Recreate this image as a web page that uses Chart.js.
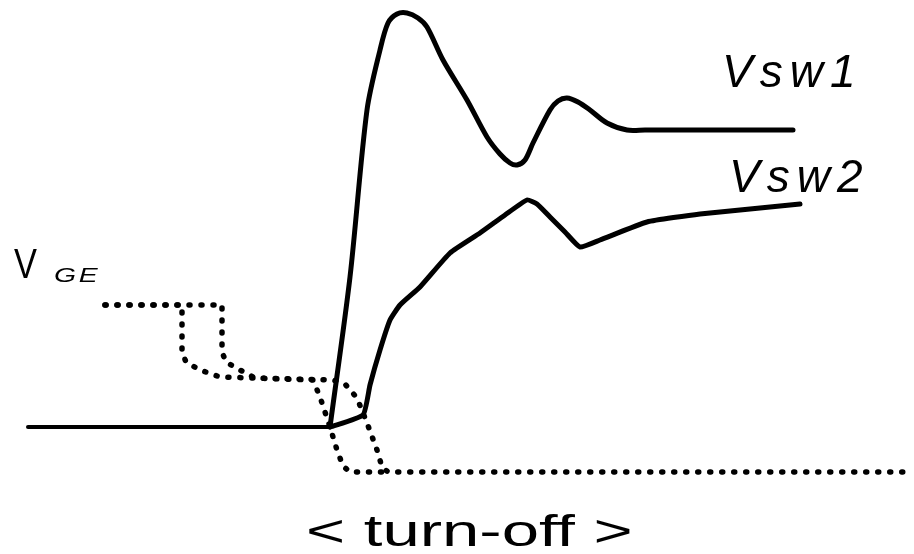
<!DOCTYPE html>
<html>
<head>
<meta charset="utf-8">
<script src="https://cdn.jsdelivr.net/npm/chart.js@4.4.1/dist/chart.umd.min.js"></script>
<style>
  html, body { margin: 0; background: #fff; }
  canvas { display: block; }
</style>
</head>
<body>
<canvas id="waveChart" width="914" height="554"></canvas>
<script>
// time axis is arbitrary units, voltage axis too (schematic waveform)
const baselineTime = [28, 330];
const baselineVolt = [127, 127];

const vsw1Time = [330, 350, 367, 380, 388, 397, 407, 418, 427, 443, 467, 487, 500, 510, 517, 525, 533, 550, 558, 567, 578, 590, 607, 627, 645, 793];
const vsw1Volt = [127, 277, 444, 504, 531, 540, 541, 536, 527, 494, 454, 417, 400, 391, 389, 394, 411, 444, 453, 456, 452, 444, 431, 424, 424, 424];

const vsw2Time = [330, 363, 370, 380, 390, 400, 420, 450, 480, 505, 527, 537, 550, 565, 580, 600, 647, 700, 800];
const vsw2Volt = [127, 139, 169, 204, 234, 249, 267, 301, 321, 339, 354, 350, 337, 322, 307, 314, 332, 340, 350];

const vgeFastTime = [105, 182, 182, 186, 200, 220, 253, 313, 320, 330, 337, 343, 350, 385];
const vgeFastVolt = [249, 249, 202, 192, 184, 177, 176, 174, 157, 127, 104, 88, 82, 82];

const vgeSlowTime = [105, 222, 222, 226, 240, 255, 333, 345, 357, 367, 377, 382, 388, 910];
const vgeSlowVolt = [249, 249, 202, 192, 184, 176, 174, 170, 156, 131, 104, 87, 82, 82];

const toPoints = (times, volts) => times.map((t, i) => ({ x: t, y: volts[i] }));

const labels = [
  { text: "Vsw1", x: 722, y: 467, size: 46, italic: true, scaleX: 1, spacing: 7 },
  { text: "Vsw2", x: 729, y: 362, size: 46, italic: true, scaleX: 1, spacing: 7 },
  { text: "V", x: 14, y: 276, size: 43, italic: false, scaleX: 0.8, spacing: 0 },
  { text: "GE", x: 54, y: 272, size: 21, italic: true, scaleX: 1.35, spacing: 2 },
  { text: "< turn-off >", x: 306, y: 8, size: 45, italic: false, scaleX: 1.49, spacing: 0 },
];

const textPlugin = {
  id: "waveLabels",
  afterDraw(chart) {
    const { ctx, scales } = chart;
    labels.forEach((label) => {
      ctx.save();
      ctx.font = `${label.italic ? "italic " : ""}${label.size}px "Liberation Sans", Arial, sans-serif`;
      ctx.letterSpacing = `${label.spacing}px`;
      ctx.fillStyle = "#000";
      ctx.textBaseline = "alphabetic";
      ctx.textAlign = "left";
      ctx.translate(scales.x.getPixelForValue(label.x), scales.y.getPixelForValue(label.y));
      ctx.scale(label.scaleX, 1);
      ctx.fillText(label.text, 0, 0);
      ctx.restore();
    });
  },
};

const solidLine = {
  showLine: true,
  borderColor: "#000",
  borderWidth: 5,
  pointRadius: 0,
  borderJoinStyle: "round",
  borderCapStyle: "round",
};

const dottedLine = {
  showLine: true,
  borderColor: "#000",
  borderWidth: 5.5,
  pointRadius: 0,
  tension: 0,
  borderDash: [1, 11],
  borderCapStyle: "round",
  borderJoinStyle: "round",
};

new Chart(document.getElementById("waveChart"), {
  type: "scatter",
  data: {
    datasets: [
      { ...solidLine, label: "baseline", data: toPoints(baselineTime, baselineVolt), borderWidth: 4, tension: 0 },
      { ...solidLine, label: "Vsw1", data: toPoints(vsw1Time, vsw1Volt), tension: 0.3 },
      { ...solidLine, label: "Vsw2", data: toPoints(vsw2Time, vsw2Volt), tension: 0.15 },
      { ...dottedLine, label: "VGE fast", data: toPoints(vgeFastTime, vgeFastVolt) },
      { ...dottedLine, label: "VGE slow", data: toPoints(vgeSlowTime, vgeSlowVolt) },
    ],
  },
  options: {
    responsive: false,
    animation: false,
    layout: { padding: 0 },
    plugins: { legend: { display: false }, tooltip: { enabled: false } },
    scales: {
      x: { type: "linear", min: 0, max: 914, display: false },
      y: { type: "linear", min: 0, max: 554, display: false },
    },
  },
  plugins: [textPlugin],
});
</script>
</body>
</html>
